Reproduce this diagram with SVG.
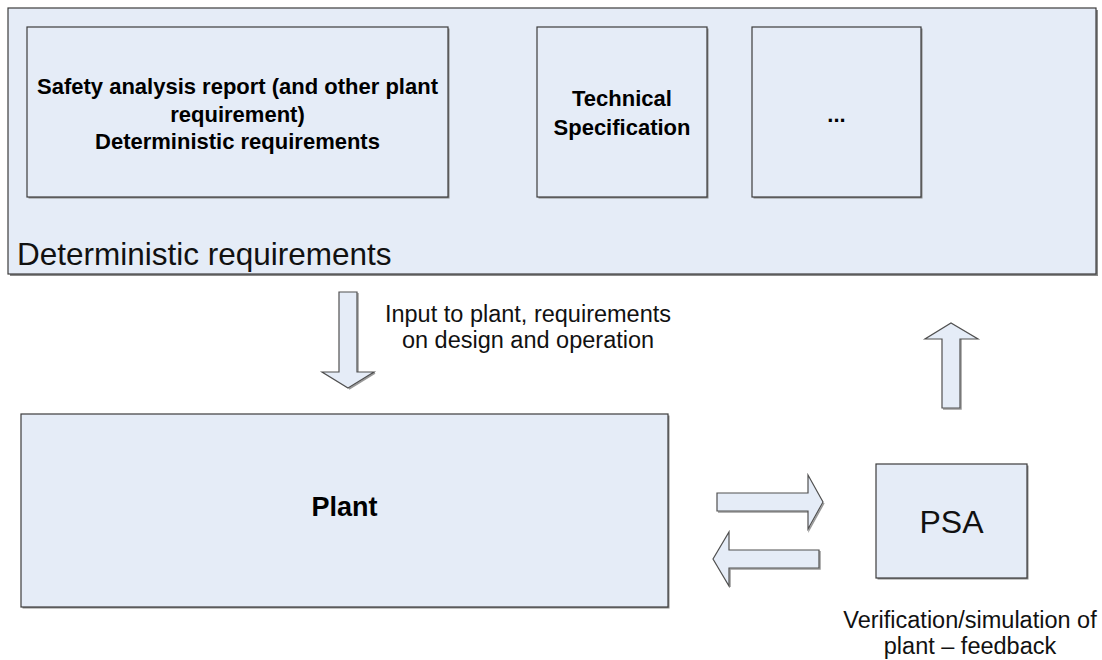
<svg xmlns="http://www.w3.org/2000/svg" width="1102" height="660" viewBox="0 0 1102 660">
<style>
.box{fill:#e5ecf7;stroke:#3c3c3c;stroke-width:1.2}
.sh{fill:#8a8a8a}
.arr{fill:#e5ecf7;stroke:#505050;stroke-width:1.2;stroke-linejoin:miter}
.ash{fill:none;stroke:#9a9a9a;stroke-width:1.5}
.b{font-family:"Liberation Sans",Arial,sans-serif;font-weight:bold;fill:#000;text-anchor:middle}
.n{font-family:"Liberation Sans",Arial,sans-serif;fill:#111;text-anchor:middle}
</style>
<rect width="1102" height="660" fill="#fff"/>
<g id="deterministic-requirements">
<rect class="sh" x="10" y="10" width="1088" height="266"/>
<rect class="box" x="8" y="8" width="1088" height="266"/>
<text x="17" y="265" font-family="Liberation Sans, Arial, sans-serif" font-size="31.5" fill="#111">Deterministic requirements</text>
</g>
<g id="safety-analysis">
<rect class="sh" x="28.5" y="28.5" width="421" height="170"/>
<rect class="box" x="27" y="27" width="421" height="170"/>
<text class="b" font-size="22" x="237.5" y="94">Safety analysis report (and other plant</text>
<text class="b" font-size="22" x="237.5" y="121.5">requirement)</text>
<text class="b" font-size="22" x="237.5" y="149">Deterministic requirements</text>
</g>
<g id="technical-specification">
<rect class="sh" x="538.5" y="28.5" width="170" height="170"/>
<rect class="box" x="537" y="27" width="170" height="170"/>
<text class="b" font-size="22" x="622" y="106">Technical</text>
<text class="b" font-size="22" x="622" y="135">Specification</text>
</g>
<g id="more">
<rect class="sh" x="753.5" y="28.5" width="169" height="170"/>
<rect class="box" x="752" y="27" width="169" height="170"/>
<text class="b" font-size="22" x="836.5" y="122">...</text>
</g>
<g id="plant">
<rect class="sh" x="22.5" y="415.5" width="647" height="193"/>
<rect class="box" x="21" y="414" width="647" height="193"/>
<text class="b" font-size="27" x="344.5" y="516">Plant</text>
</g>
<g id="psa">
<rect class="sh" x="877.5" y="465.5" width="151" height="114"/>
<rect class="box" x="876" y="464" width="151" height="114"/>
<text class="n" font-size="32" x="951.5" y="533">PSA</text>
</g>
<g id="connectors">
<path class="ash" d="M358,293 V373 H375 M349,389 L375,373"/>
<path class="arr" d="M339,292 H357 V372 H374 L348,388 L322,372 H339 Z"/>
<path class="ash" d="M961,339 V409 H943"/>
<path class="arr" d="M942,408 H960 V339 H978 L951,323 L925,339 H942 Z"/>
<path class="ash" d="M718,512 H809 V530 L824,503"/>
<path class="arr" d="M717,493 H808 V475 L823,502 L808,529 V511 H717 Z"/>
<path class="ash" d="M820,551 V569 H730 V587"/>
<path class="arr" d="M819,550 H729 V532 L713,559 L729,586 V568 H819 Z"/>
</g>
<g id="labels">
<text class="n" font-size="23.5" x="528" y="322">Input to plant, requirements</text>
<text class="n" font-size="23.5" x="528" y="348">on design and operation</text>
<text class="n" font-size="23.5" x="970" y="628">Verification/simulation of</text>
<text class="n" font-size="23.5" x="970" y="654">plant – feedback</text>
</g>
</svg>
